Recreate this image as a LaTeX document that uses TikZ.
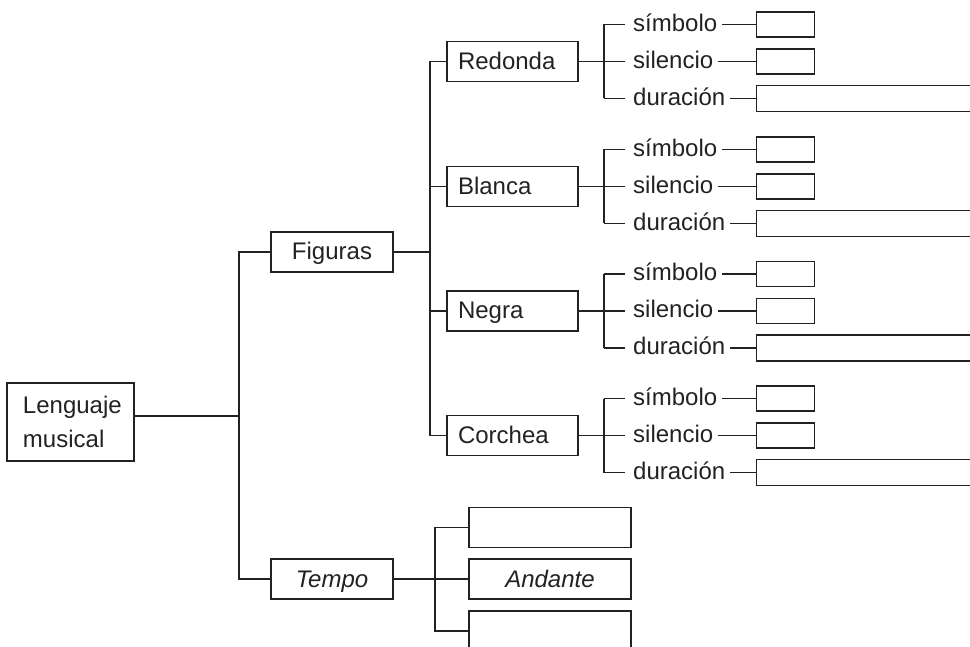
\documentclass[tikz,border=0pt]{standalone}
\usepackage{fontspec}
\setmainfont{Liberation Sans}
\definecolor{ink}{HTML}{222222}
\begin{document}
\begin{tikzpicture}[x=1pt,y=-1pt,
  every node/.style={font=\fontsize{24}{34}\selectfont, text=ink},
  ln/.style={draw=ink, line width=1.3pt},
  box/.style={draw=ink, line width=1.3pt, inner sep=0pt, minimum height=40pt, text height=17pt, text depth=1pt},
  mainbox/.style={box, minimum width=122pt},
  figbox/.style={box, text width=109pt, inner xsep=11pt, align=left},
  lab/.style={inner sep=0pt, anchor=base west},
  smallbox/.style={draw=ink, line width=1.3pt, inner sep=0pt, minimum width=58pt, minimum height=25pt, anchor=west},
  longbox/.style={draw=ink, line width=1.3pt, inner sep=0pt, minimum width=260pt, minimum height=26pt, anchor=west},
  tbox/.style={box, minimum width=162pt}]
\useasboundingbox (0,0) rectangle (970,647);
\clip (0,0) rectangle (970,647);

% root
\node[draw=ink, line width=1.3pt, inner sep=0pt, text width=95pt, inner xsep=16pt, minimum height=78pt, align=left] (root) at (70.5,422) {Lenguaje\\musical};
\coordinate (j0) at (239,416);
\draw[ln] (root.east |- j0) -- (j0);

% level 1
\node[mainbox] (fig) at (332,252) {Figuras};
\node[mainbox] (tem) at (332,579) {\itshape Tempo};
\draw[ln] (fig.west) -| (j0) |- (tem.west);

% figures
\coordinate (j1) at (430,252);
\draw[ln] (fig.east) -- (j1);
\foreach \n/\t/\c in {1/Redonda/61.5, 2/Blanca/186.5, 3/Negra/311, 4/Corchea/435.5}{
  \node[figbox] (g\n) at (512.5,\c) {\t};
  \coordinate (v\n) at (604,\c);
  \coordinate (a\n) at (604,\c-37);
  \coordinate (b\n) at (604,\c+37);
  \draw[ln] (g\n.east) -- (v\n);
  \draw[ln] (a\n) -- (b\n);
  \node[lab] (ls\n) at (633,\c-30) {símbolo};
  \node[lab] (li\n) at (633,\c+7) {silencio};
  \node[lab] (ld\n) at (633,\c+44) {duración};
  \node[smallbox] (bs\n) at (756,\c-37) {};
  \node[smallbox] (bi\n) at (756,\c) {};
  \node[longbox] (bd\n) at (756,\c+37) {};
  \draw[ln] (a\n) -- ([xshift=-8pt]a\n -| ls\n.west);
  \draw[ln] (v\n) -- ([xshift=-8pt]v\n -| li\n.west);
  \draw[ln] (b\n) -- ([xshift=-8pt]b\n -| ld\n.west);
  \draw[ln] ([xshift=5pt]a\n -| ls\n.east) -- (bs\n.west);
  \draw[ln] ([xshift=5pt]v\n -| li\n.east) -- (bi\n.west);
  \draw[ln] ([xshift=5pt]b\n -| ld\n.east) -- (bd\n.west);
}
\draw[ln] (g1.west) -| (j1) |- (g4.west);
\draw[ln] (j1 |- g2.west) -- (g2.west);
\draw[ln] (j1 |- g3.west) -- (g3.west);

% tempo
\coordinate (j2) at (435,579);
\node[tbox] (t1) at (550,527.5) {};
\node[tbox] (t2) at (550,579) {\itshape Andante};
\node[tbox] (t3) at (550,631) {};
\draw[ln] (tem.east) -- (t2.west);
\draw[ln] (t1.west) -| (j2) |- (t3.west);
\end{tikzpicture}
\end{document}
